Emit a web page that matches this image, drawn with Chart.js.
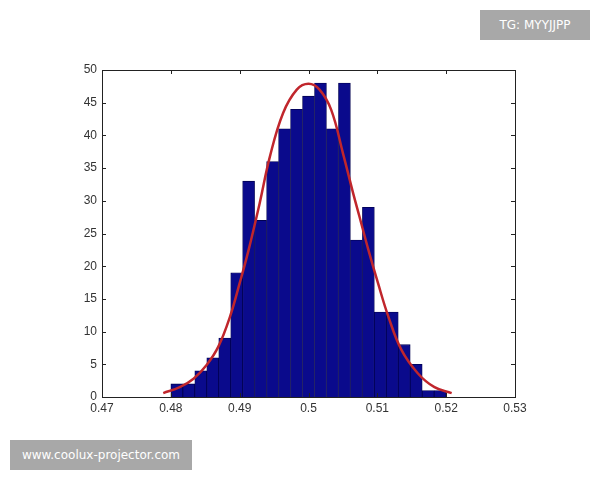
<!DOCTYPE html>
<html>
<head>
<meta charset="utf-8">
<script src="https://cdn.jsdelivr.net/npm/chart.js@4/dist/chart.umd.min.js"></script>
<style>
    body { margin: 0; background: #fff; }
    #wrap { position: relative; width: 600px; height: 480px; }
    .tag { position: absolute; background: #a8a8a8; color: #fff; font: 12px "DejaVu Sans", sans-serif; display: flex; align-items: center; justify-content: center; }
</style>
</head>
<body>
<div id="wrap">
    <canvas id="hist" width="600" height="480"></canvas>
    <div class="tag" style="left:480px; top:10px; width:110px; height:30px;">TG: MYYJJPP</div>
    <div class="tag" style="left:10px; top:440px; width:182px; height:30px;">www.coolux-projector.com</div>
</div>
<script>
// histogram bins (centres) and counts
const binCenters = [0.48087, 0.48261, 0.48435, 0.48609, 0.48783, 0.48957, 0.49130, 0.49304,
    0.49478, 0.49652, 0.49826, 0.50000, 0.50174, 0.50348, 0.50522, 0.50696, 0.50870,
    0.51043, 0.51217, 0.51391, 0.51565, 0.51739, 0.51913];
const counts = [2, 2, 4, 6, 9, 19, 33, 27, 36, 41, 44, 46, 48, 41, 48, 24, 29, 13, 13, 8, 5, 1, 1];

// fitted curve
const curveX = [0.4789, 0.4813, 0.4833, 0.4852, 0.4869, 0.4886, 0.4900, 0.4913, 0.4929, 0.4944,
    0.4963, 0.4983, 0.5000, 0.5016, 0.5033, 0.5050, 0.5065, 0.5074, 0.5087, 0.5101, 0.5116,
    0.5135, 0.5159, 0.5183, 0.5208];
const curveY = [0.6, 1.5, 2.8, 4.9, 7.7, 12.3, 17.4, 22.5, 29.6, 36.8,
    43.4, 47.0, 47.9, 47.0, 43.9, 37.3, 31.1, 27.6, 22.5, 17.4, 12.3,
    7.2, 3.6, 1.5, 0.6];

const xTicks = [0.47, 0.48, 0.49, 0.5, 0.51, 0.52, 0.53];

// matlab style box with inward ticks on all sides
const boxTicks = {
    id: 'boxTicks',
    afterDraw(chart) {
        const { ctx, chartArea: a, scales } = chart;
        ctx.save();
        ctx.strokeStyle = '#222';
        ctx.lineWidth = 1;
        ctx.strokeRect(a.left + 0.5, a.top + 0.5, a.right - a.left, a.bottom - a.top);
        ctx.beginPath();
        xTicks.forEach(v => {
            const px = Math.round(scales.x.getPixelForValue(v)) + 0.5;
            ctx.moveTo(px, a.bottom); ctx.lineTo(px, a.bottom - 4);
            ctx.moveTo(px, a.top); ctx.lineTo(px, a.top + 4);
        });
        for (let v = 0; v <= 50; v += 5) {
            const py = Math.round(scales.y.getPixelForValue(v)) + 0.5;
            ctx.moveTo(a.left, py); ctx.lineTo(a.left + 4, py);
            ctx.moveTo(a.right, py); ctx.lineTo(a.right - 4, py);
        }
        ctx.stroke();
        ctx.restore();
    }
};

new Chart(document.getElementById('hist'), {
    type: 'bar',
    data: {
        datasets: [{
            type: 'line',
            data: curveX.map((x, i) => ({ x, y: curveY[i] })),
            borderColor: '#c0262c',
            borderWidth: 2.5,
            pointRadius: 0,
            tension: 0.4,
            fill: false
        }, {
            data: binCenters.map((x, i) => ({ x, y: counts[i] })),
            backgroundColor: '#0a0a8c',
            borderColor: '#000050',
            borderWidth: 0.8,
            barPercentage: 1,
            categoryPercentage: 1
        }]
    },
    options: {
        responsive: false,
        animation: false,
        layout: { padding: { top: 70, right: 85, left: 0, bottom: 0 } },
        plugins: { legend: { display: false }, tooltip: { enabled: false } },
        scales: {
            x: {
                type: 'linear',
                min: 0.47, max: 0.53,
                offset: false,
                afterFit: s => { s.height = 83; },
                afterBuildTicks: s => { s.ticks = xTicks.map(v => ({ value: v })); },
                grid: { display: false, drawTicks: false },
                border: { display: false },
                ticks: {
                    padding: 4,
                    color: '#333',
                    font: { family: 'Liberation Sans', size: 12 },
                    maxRotation: 0,
                    callback: v => String(+v.toFixed(2))
                }
            },
            y: {
                min: 0, max: 50,
                afterFit: s => { s.width = 102; },
                grid: { display: false, drawTicks: false },
                border: { display: false },
                ticks: {
                    stepSize: 5,
                    padding: 5,
                    color: '#333',
                    font: { family: 'Liberation Sans', size: 12 }
                }
            }
        }
    },
    plugins: [boxTicks]
});
</script>
</body>
</html>
